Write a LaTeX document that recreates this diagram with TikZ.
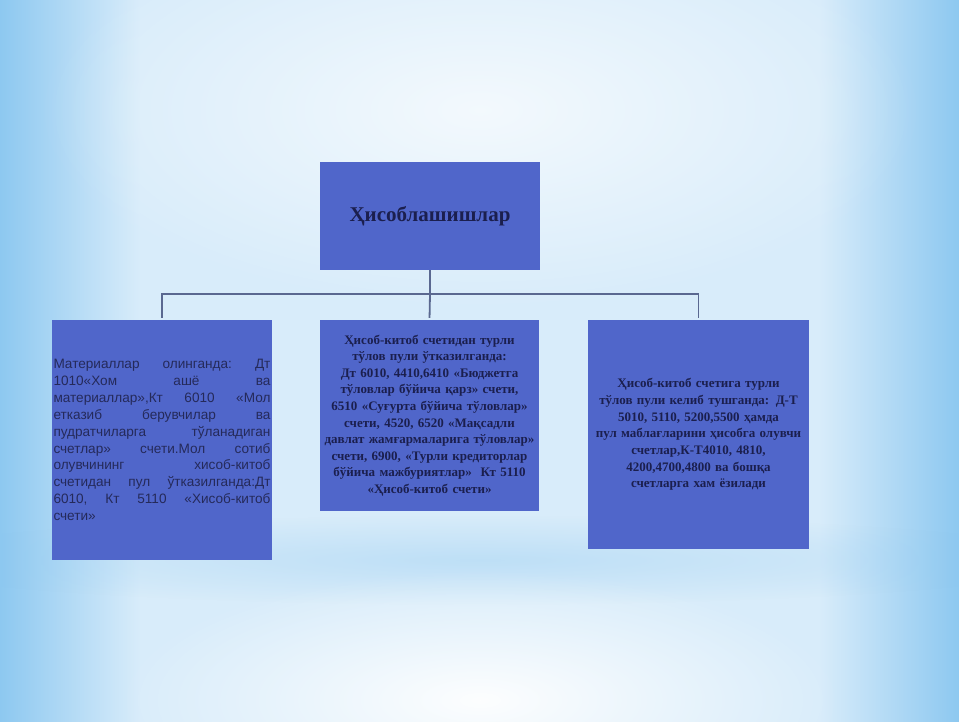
\documentclass[tikz,border=0pt]{standalone}
\usepackage{fontspec}
\setmainfont{Liberation Serif}
\newfontfamily\lsans{Liberation Sans}
\usetikzlibrary{fadings}
\tikzfading[name=myglow, inner color=transparent!0, outer color=transparent!100]
\definecolor{boxblue}{HTML}{5066CA}
\definecolor{txtdark}{HTML}{1B1F4E}
\definecolor{txtleft}{HTML}{252A5A}
\definecolor{connc}{HTML}{5A6890}
\definecolor{bgbase}{HTML}{D8ECFA}
\definecolor{bgedge}{HTML}{8DC8F0}
\newcommand\jline[1]{\hbox to 217pt{#1}}
\tikzset{
  box/.style={fill=boxblue, inner sep=0pt, draw=none},
  conn/.style={draw=connc, line width=1.8pt},
}
\begin{document}
\begin{tikzpicture}[x=1pt,y=-1pt]
\useasboundingbox (0,0) rectangle (959,722);
% background
\fill[bgbase] (0,0) rectangle (959,722);
\shade[left color=bgedge, right color=bgbase] (0,0) rectangle (140,722);
\shade[left color=bgbase, right color=bgedge] (819,0) rectangle (959,722);
\fill[white, opacity=0.7, path fading=myglow] (480,110) ellipse [x radius=440, y radius=200];
\fill[bgedge, opacity=0.35, path fading=myglow] (480,560) ellipse [x radius=600, y radius=45];
\fill[white, opacity=0.95, path fading=myglow] (480,700) ellipse [x radius=360, y radius=130];
% nodes
\node[box, minimum width=220pt, minimum height=108pt] (top) at (430,216)
  {\fontsize{21}{24}\selectfont\bfseries\color{txtdark}Ҳисоблашишлар};
\node[box, minimum width=220pt, minimum height=240pt] (l) at (162,440) {};
\node[inner sep=0pt, text=txtleft, font=\lsans\fontsize{13.6}{16.9}\selectfont] at (l.center)
  {\vbox{\hsize=217pt\baselineskip=16.9pt
   \jline{Материаллар\hfill олинганда:\hfill Дт}
   \jline{1010«Хом\hfill ашё\hfill ва}
   \jline{материаллар»,Кт\hfill 6010\hfill «Мол}
   \jline{етказиб\hfill берувчилар\hfill ва}
   \jline{пудратчиларга\hfill тўланадиган}
   \jline{счетлар»\hfill счети.Мол\hfill сотиб}
   \jline{олувчининг\hfill хисоб-китоб}
   \jline{счетидан\hfill пул\hfill ўтказилганда:Дт}
   \jline{6010,\hfill Кт\hfill 5110\hfill «Хисоб-китоб}
   \jline{счети»\hfill}}};
\node[box, minimum width=219pt, minimum height=191pt, text width=219pt, align=center, text=txtdark,
  font=\fontsize{13}{16.6}\selectfont\bfseries] (m) at (429.5,415.5)
  {Ҳисоб-китоб счетидан турли\\
   тўлов пули ўтказилганда:\\
   Дт 6010, 4410,6410 «Бюджетга\\
   тўловлар бўйича қарз» счети,\\
   6510 «Суғурта бўйича тўловлар»\\
   счети, 4520, 6520 «Мақсадли\\
   давлат жамғармаларига тўловлар»\\
   счети, 6900, «Турли кредиторлар\\
   бўйича мажбуриятлар» \ Кт 5110\\
   «Ҳисоб-китоб счети»};
\node[box, minimum width=221pt, minimum height=229pt, text width=219pt, align=center, text=txtdark,
  font=\fontsize{13}{16.7}\selectfont\bfseries] (r) at (698.5,434.5)
  {Ҳисоб-китоб счетига турли\\
   тўлов пули келиб тушганда: Д-Т\\
   5010, 5110, 5200,5500 ҳамда\\
   пул маблағларини ҳисобга олувчи\\
   счетлар,К-Т4010, 4810,\\
   4200,4700,4800 ва бошқа\\
   счетларга хам ёзилади};
% connectors
\coordinate (hub) at (430,294);
\draw[conn] (top.south) -- (hub);
\draw[conn, shorten <=2pt] (l.north) |- (hub);
\draw[conn, shorten <=2pt] (r.north) |- (hub);
\draw[conn, shorten <=2pt] (m.north) -- (hub);
\end{tikzpicture}
\end{document}
